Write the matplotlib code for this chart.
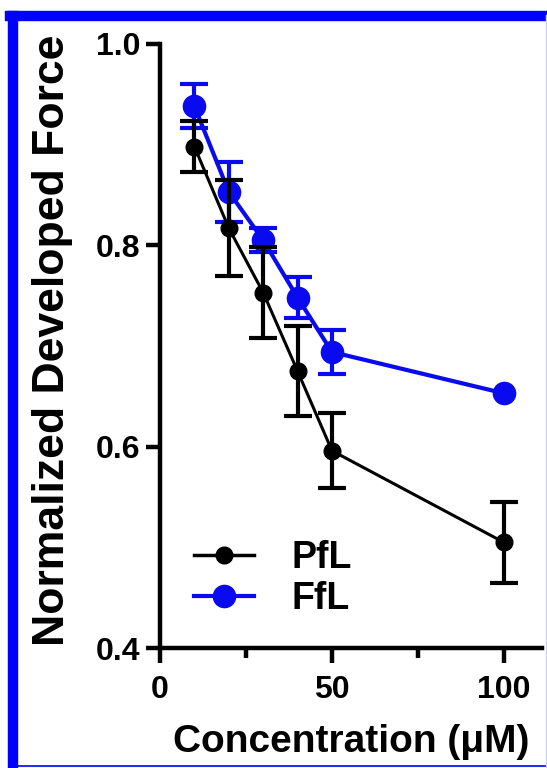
import matplotlib
matplotlib.use('Agg')
import matplotlib.pyplot as plt
from matplotlib.lines import Line2D

# data
conc = [10, 20, 30, 40, 50, 100]
pfl = [0.898, 0.817, 0.753, 0.675, 0.596, 0.505]
pfl_err = [0.025, 0.048, 0.045, 0.045, 0.037, 0.040]
ffl = [0.938, 0.853, 0.805, 0.748, 0.694, 0.653]
ffl_err = [0.022, 0.030, 0.012, 0.020, 0.022, 0.0]

plt.rcParams['font.family'] = ['Liberation Sans', 'DejaVu Sans']
plt.rcParams['font.weight'] = 'bold'

blue = '#0a0af0'

fig = plt.figure(figsize=(5.47, 7.68), dpi=100)
ax = fig.add_axes([0.2925, 0.156, 0.698, 0.787])

# last FfL point has no visible error bar
show_err = [e > 0 for e in ffl_err]
ax.errorbar(conc, ffl, yerr=ffl_err, errorevery=show_err, color=blue, marker='o',
            ms=16, lw=3, elinewidth=3, capsize=10, capthick=3, zorder=2)
ax.errorbar(conc, pfl, yerr=pfl_err, color='black', marker='o', ms=12,
            lw=2.2, elinewidth=3, capsize=10, capthick=3, zorder=3)

ax.set_xlim(0, 111)
ax.set_ylim(0.4, 1.0)
ax.set_xticks([0, 50, 100])
ax.set_xticks([25, 75], minor=True)
ax.set_yticks([0.4, 0.6, 0.8, 1.0])
ax.set_yticklabels(['0.4', '0.6', '0.8', '1.0'])

for s in ['top', 'right']:
    ax.spines[s].set_visible(False)
for s in ['left', 'bottom']:
    ax.spines[s].set_linewidth(3.2)
ax.tick_params(axis='x', which='major', length=11, width=3.2, pad=8, labelsize=23)
ax.tick_params(axis='x', which='minor', length=7, width=3.2)
ax.tick_params(axis='y', length=10, width=3.2, pad=4, labelsize=23)
for t in ax.get_xticklabels() + ax.get_yticklabels():
    t.set_fontweight('bold')

ax.set_xlabel('Concentration (\u03bcM)', fontsize=28, fontweight='bold')
ax.set_ylabel('Normalized Developed Force', fontsize=32, fontweight='bold')
ax.xaxis.set_label_coords(0.5, -0.126)
ax.yaxis.set_label_coords(-0.228, 0.51)

handles = [Line2D([], [], color='black', marker='o', ms=12, lw=2.5),
           Line2D([], [], color=blue, marker='o', ms=16, lw=3)]
leg = ax.legend(handles, ['PfL', 'FfL'], loc='lower left', bbox_to_anchor=(0.0, -0.005),
                frameon=False, fontsize=27, handlelength=1.6, handletextpad=1.0,
                labelspacing=0.15)
for t in leg.get_texts():
    t.set_fontweight('bold')

# blue frame around the panel (right and bottom edges cropped)
fig.add_artist(Line2D([0.0235, 0.0235], [0.0, 0.9795], transform=fig.transFigure,
                      color='#0000ff', lw=7.5))
fig.add_artist(Line2D([0.0185, 1.0], [0.9795, 0.9795], transform=fig.transFigure,
                      color='#0000ff', lw=7.5))
fig.add_artist(Line2D([0.0185, 1.0], [0.0025, 0.0025], transform=fig.transFigure,
                      color='#0000ff', lw=1.2))
fig.add_artist(Line2D([0.998, 0.998], [0.0, 0.98], transform=fig.transFigure,
                      color='#d0d0ff', lw=1))

fig.savefig('out.png', dpi=100)
